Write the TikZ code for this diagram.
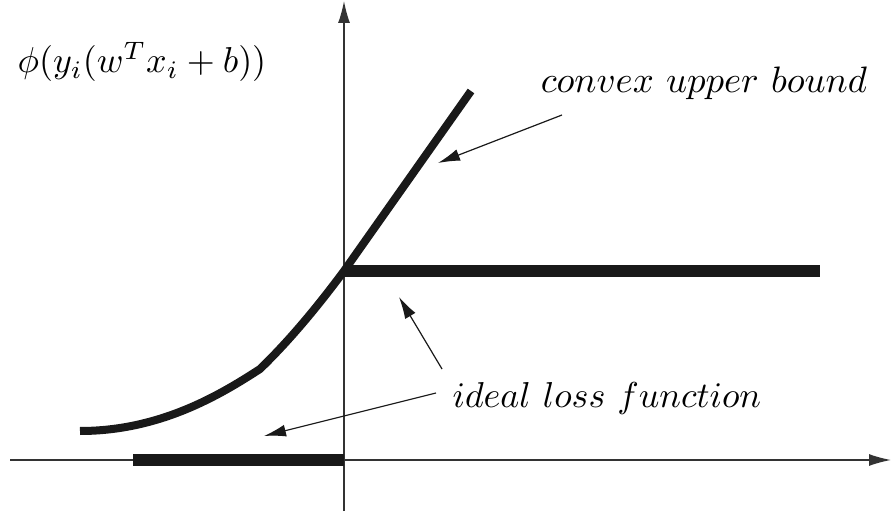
\documentclass[tikz,border=0pt]{standalone}
\usetikzlibrary{arrows.meta}
\begin{document}
\begin{tikzpicture}[x=1pt,y=-1pt,
  axis/.style={line width=1.3pt, draw=black!80, -{Latex[length=22pt,width=12pt]}},
  bar/.style={line width=12pt, line cap=butt, draw=black!90},
  curvestyle/.style={line width=8pt, draw=black!90, line join=round},
  pointer/.style={line width=1.2pt, draw=black!90, -{Latex[length=22pt,width=12pt]}},
  lbl/.style={anchor=base, inner sep=0pt}]
\useasboundingbox (0,0) rectangle (892,513);
% axes
\coordinate (xl) at (10,460);
\coordinate (xr) at (891,460);
\coordinate (yb) at (344,511);
\coordinate (yt) at (344,1);
\coordinate (o) at (344,460);
\coordinate (c) at (344,271);
\draw[axis] (xl) -- (xr);
\draw[axis] (yb) -- (yt);
% ideal loss
\coordinate (b0) at (133,460);
\coordinate (s1) at (820,271);
\draw[bar] (b0) -- (o);
\draw[bar] (c) -- (s1);
% convex upper bound
\coordinate (k0) at (80,431);
\coordinate (k1) at (260,369);
\coordinate (k2) at (471,91);
\draw[curvestyle] (k0) .. controls (160,431) and (220,395) .. (k1)
  .. controls (290,340) and (318,306) .. (c) -- (k2);
% labels
\node[lbl] (phi) at (142,73) {\scalebox{3.6}{$\phi(y_i(w^Tx_i+b))$}};
\node[lbl] (cub) at (704,93) {\scalebox{3.68}{$convex\ upper\ bound$}};
\node[lbl] (ilf) at (607,407) {\scalebox{3.6}{$ideal\ loss\ function$}};
% pointers
\coordinate (p1s) at (562,115);
\coordinate (p1e) at (438,163);
\coordinate (p2s) at (442,369);
\coordinate (p2e) at (399,297);
\coordinate (p3s) at (436,393);
\coordinate (p3e) at (264,436);
\draw[pointer] (p1s) -- (p1e);
\draw[pointer] (p2s) -- (p2e);
\draw[pointer] (p3s) -- (p3e);
\end{tikzpicture}
\end{document}
